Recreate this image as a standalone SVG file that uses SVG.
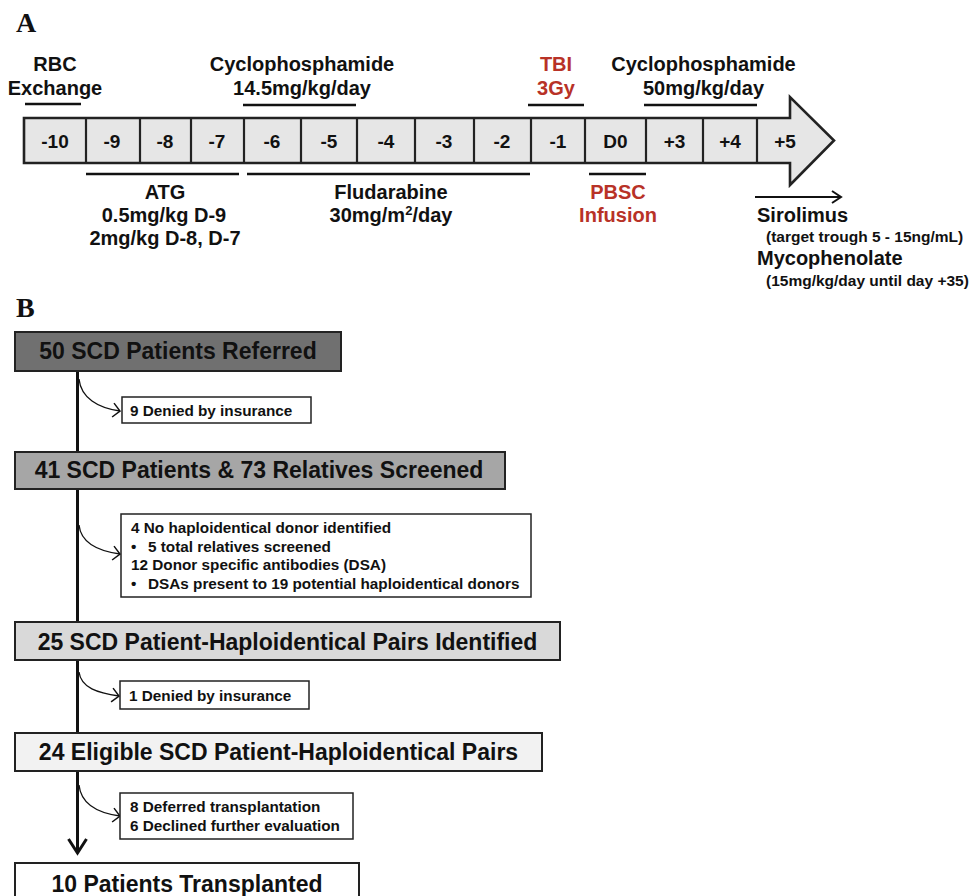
<svg xmlns="http://www.w3.org/2000/svg" width="971" height="896" viewBox="0 0 971 896">
<defs>
<style>
.t{font-family:"Liberation Sans",Arial,sans-serif;font-weight:bold;fill:#111}
.lbl{font-size:20px;text-anchor:middle}
.red{fill:#b83227}
.cell{font-size:19px;text-anchor:middle}
.small{font-size:15.5px}
.main{font-size:23px;text-anchor:middle}
.side{font-size:15.3px}
.panel{font-family:"Liberation Serif","Times New Roman",serif;font-weight:bold;font-size:28px;fill:#111}
.ul{stroke:#111;stroke-width:2.4;fill:none}
.div{stroke:#222;stroke-width:2.2}
.box{stroke:#222;stroke-width:2}
.sbox{fill:#fff;stroke:#222;stroke-width:1.5}
.curve{fill:none;stroke:#111;stroke-width:1.3}
</style>
<marker id="chev" markerUnits="userSpaceOnUse" markerWidth="12" markerHeight="18" refX="8" refY="8" orient="auto">
<path d="M1,1 L8,8 L1,15" fill="none" stroke="#111" stroke-width="1.5"/>
</marker>
<marker id="down" markerUnits="userSpaceOnUse" markerWidth="22" markerHeight="24" refX="15" refY="10" orient="auto">
<path d="M1,1 L15,10 L1,19" fill="none" stroke="#111" stroke-width="3"/>
</marker>
<marker id="thin" markerUnits="userSpaceOnUse" markerWidth="14" markerHeight="16" refX="10" refY="7" orient="auto">
<path d="M1,1 L10,7 L1,13" fill="none" stroke="#111" stroke-width="2"/>
</marker>
</defs>

<!-- Panel A -->
<text class="panel" x="16" y="32">A</text>

<g id="timeline">
<path d="M24,118 H790 V97 L834,140.5 L790,185 V163 H24 Z" fill="#e6e6e6" stroke="#222" stroke-width="2.6" stroke-linejoin="miter"/>
<g class="div">
<line x1="86" y1="118" x2="86" y2="163"/>
<line x1="140" y1="118" x2="140" y2="163"/>
<line x1="191" y1="118" x2="191" y2="163"/>
<line x1="244" y1="118" x2="244" y2="163"/>
<line x1="301" y1="118" x2="301" y2="163"/>
<line x1="357" y1="118" x2="357" y2="163"/>
<line x1="415" y1="118" x2="415" y2="163"/>
<line x1="474" y1="118" x2="474" y2="163"/>
<line x1="531" y1="118" x2="531" y2="163"/>
<line x1="585" y1="118" x2="585" y2="163"/>
<line x1="646" y1="118" x2="646" y2="163"/>
<line x1="703" y1="118" x2="703" y2="163"/>
<line x1="757" y1="118" x2="757" y2="163"/>
</g>
<g class="t cell">
<text x="55" y="147.5">-10</text>
<text x="112" y="147.5">-9</text>
<text x="165" y="147.5">-8</text>
<text x="217" y="147.5">-7</text>
<text x="272" y="147.5">-6</text>
<text x="329" y="147.5">-5</text>
<text x="386" y="147.5">-4</text>
<text x="444" y="147.5">-3</text>
<text x="502" y="147.5">-2</text>
<text x="558" y="147.5">-1</text>
<text x="615.5" y="147.5">D0</text>
<text x="674.5" y="147.5">+3</text>
<text x="730" y="147.5">+4</text>
<text x="785" y="147.5">+5</text>
</g>
</g>

<g id="rbc">
<text class="t lbl" x="55" y="71">RBC</text>
<text class="t lbl" x="55" y="95">Exchange</text>
<line class="ul" x1="25" y1="104" x2="81" y2="104"/>
</g>

<g id="cyclo1">
<text class="t lbl" x="302" y="71">Cyclophosphamide</text>
<text class="t lbl" x="302" y="95">14.5mg/kg/day</text>
<line class="ul" x1="243" y1="105" x2="356" y2="105"/>
</g>

<g id="tbi">
<text class="t lbl red" x="556" y="71">TBI</text>
<text class="t lbl red" x="556" y="95">3Gy</text>
<line class="ul" x1="528" y1="105" x2="584" y2="105"/>
</g>

<g id="cyclo2">
<text class="t lbl" x="703.5" y="71">Cyclophosphamide</text>
<text class="t lbl" x="703.5" y="95">50mg/kg/day</text>
<line class="ul" x1="644" y1="105" x2="757" y2="105"/>
</g>

<g id="atg">
<line class="ul" x1="86" y1="174" x2="239" y2="174"/>
<text class="t lbl" x="165" y="199">ATG</text>
<text class="t lbl" x="164" y="222">0.5mg/kg D-9</text>
<text class="t lbl" x="165" y="245">2mg/kg D-8, D-7</text>
</g>

<g id="fludarabine">
<line class="ul" x1="247" y1="174" x2="530" y2="174"/>
<text class="t lbl" x="391" y="199">Fludarabine</text>
<text class="t lbl" x="391" y="222">30mg/m<tspan font-size="13" dy="-7">2</tspan><tspan dy="7">/day</tspan></text>
</g>

<g id="pbsc">
<line class="ul" x1="589" y1="174" x2="646" y2="174"/>
<text class="t lbl red" x="618" y="199">PBSC</text>
<text class="t lbl red" x="618" y="222">Infusion</text>
</g>

<g id="gvhd">
<line x1="755" y1="197" x2="841" y2="197" stroke="#111" stroke-width="2" marker-end="url(#thin)"/>
<text class="t" font-size="20" x="757" y="222">Sirolimus</text>
<text class="t small" x="766" y="242">(target trough 5 - 15ng/mL)</text>
<text class="t" font-size="20" x="757" y="265">Mycophenolate</text>
<text class="t small" x="766" y="286">(15mg/kg/day until day +35)</text>
</g>

<!-- Panel B -->
<text class="panel" x="16" y="317">B</text>

<g id="connectors">
<line x1="77.5" y1="371" x2="77.5" y2="853" stroke="#111" stroke-width="3" marker-end="url(#down)"/>
<path class="curve" d="M79,379 C81,398 98,408 120,411" marker-end="url(#chev)"/>
<path class="curve" d="M79,525 C81,543 98,551 120,554" marker-end="url(#chev)"/>
<path class="curve" d="M79,672 C81,688 98,693 119,696" marker-end="url(#chev)"/>
<path class="curve" d="M79,785 C81,804 98,813 120,816" marker-end="url(#chev)"/>
</g>

<g id="n1">
<rect class="box" x="15" y="332" width="326" height="39" fill="#707070"/>
<text class="t main" x="178" y="359">50 SCD Patients Referred</text>
</g>

<g id="s1">
<rect class="sbox" x="122" y="397" width="189" height="26"/>
<text class="t side" x="130" y="415.5">9 Denied by insurance</text>
</g>

<g id="n2">
<rect class="box" x="15" y="452" width="490" height="37" fill="#a6a6a6"/>
<text class="t main" x="259" y="477.5">41 SCD Patients &amp; 73 Relatives Screened</text>
</g>

<g id="s2">
<rect class="sbox" x="121" y="514" width="410" height="83"/>
<text class="t side" x="131" y="533">4 No haploidentical donor identified</text>
<text class="t side" x="131" y="551.5">•</text>
<text class="t side" x="148" y="551.5">5 total relatives screened</text>
<text class="t side" x="131" y="570">12 Donor specific antibodies (DSA)</text>
<text class="t side" x="131" y="588.5">•</text>
<text class="t side" x="148" y="588.5">DSAs present to 19 potential haploidentical donors</text>
</g>

<g id="n3">
<rect class="box" x="15" y="622" width="545" height="38" fill="#d9d9d9"/>
<text class="t main" x="287.5" y="649.5">25 SCD Patient-Haploidentical Pairs Identified</text>
</g>

<g id="s3">
<rect class="sbox" x="120" y="681" width="189" height="28"/>
<text class="t side" x="129" y="700.5">1 Denied by insurance</text>
</g>

<g id="n4">
<rect class="box" x="15" y="733" width="527" height="38" fill="#f2f2f2"/>
<text class="t main" x="278.5" y="760">24 Eligible SCD Patient-Haploidentical Pairs</text>
</g>

<g id="s4">
<rect class="sbox" x="120" y="793" width="233" height="46"/>
<text class="t side" x="130" y="812">8 Deferred transplantation</text>
<text class="t side" x="130" y="830.5">6 Declined further evaluation</text>
</g>

<g id="n5">
<rect class="box" x="15" y="863" width="344" height="40" fill="#ffffff"/>
<text class="t main" x="187" y="892">10 Patients Transplanted</text>
</g>
</svg>
